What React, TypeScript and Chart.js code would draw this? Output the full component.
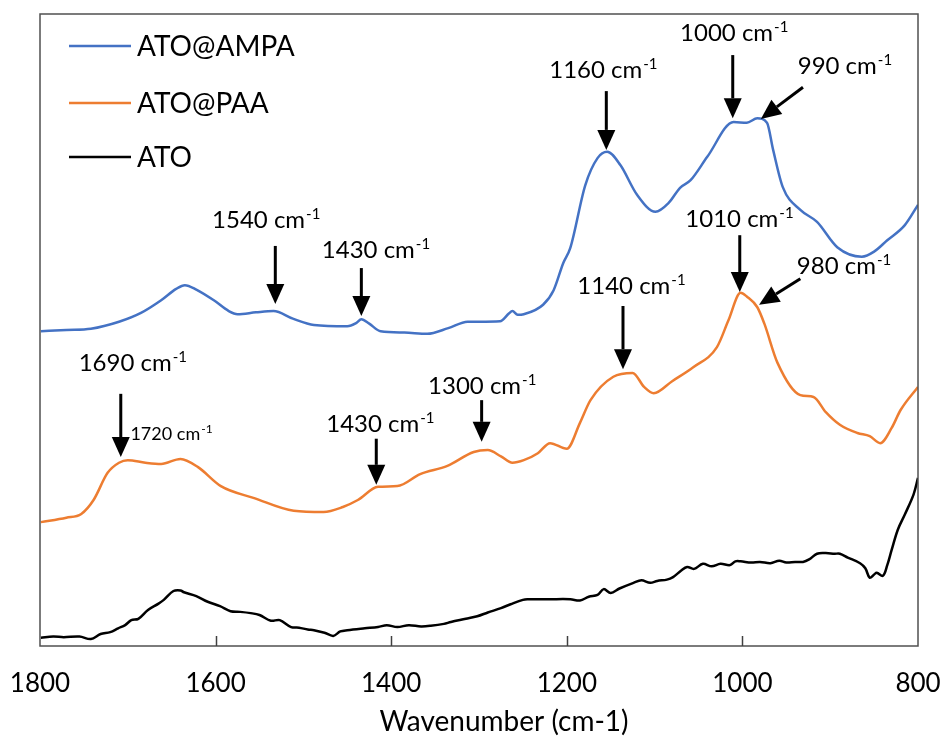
import React, { useEffect, useRef } from 'react';
import { Chart, registerables } from 'chart.js';

Chart.register(...registerables);

const FONT = 'Lato, "Open Sans", sans-serif';

// ---- Data (wavenumber in cm-1, absorbance in arbitrary units) ----
const seriesNames = ['ATO@AMPA', 'ATO@PAA', 'ATO'];
const seriesColors = ['#4472C4', '#ED7D31', '#000000'];
const xAxisTitle = 'Wavenumber (cm-1)';

const amapWn = [1799, 1770, 1742, 1710, 1685, 1662, 1645, 1635, 1622, 1602, 1585, 1575, 1554, 1534, 1512, 1488, 1450, 1440, 1434, 1425, 1412, 1385, 1359, 1335, 1313, 1276, 1266, 1262, 1256, 1249, 1227, 1215, 1204, 1196, 1179, 1165, 1154, 1139, 1120, 1099, 1084, 1071, 1059, 1040, 1010, 995, 983, 972, 965, 954, 934, 915, 892, 864, 850, 835, 815, 800];
const amapAbs = [49.8, 50.0, 50.2, 51.3, 52.7, 54.7, 56.5, 57.1, 56.4, 54.7, 53.0, 52.5, 52.8, 53.0, 51.8, 50.8, 50.6, 51.1, 51.7, 51.0, 49.8, 49.6, 49.4, 50.3, 51.3, 51.4, 52.6, 53.0, 52.4, 52.5, 54.0, 56.3, 60.6, 63.0, 72.9, 77.2, 78.2, 76.1, 71.4, 68.7, 70.1, 72.5, 73.7, 77.4, 82.9, 82.8, 83.5, 82.8, 78.5, 72.6, 69.0, 67.1, 63.1, 61.6, 62.4, 64.2, 66.6, 69.8];

const paaWn = [1799, 1770, 1753, 1739, 1723, 1710, 1700, 1680, 1662, 1640, 1620, 1594, 1556, 1511, 1477, 1455, 1438, 1415, 1393, 1367, 1336, 1306, 1290, 1275, 1262, 1249, 1233, 1219, 1200, 1185, 1173, 1147, 1125, 1112, 1101, 1080, 1056, 1029, 1016, 1002, 995, 983, 975, 960, 934, 919, 905, 889, 869, 855, 843, 830, 820, 800];
const paaAbs = [19.6, 20.3, 20.9, 23.1, 27.4, 29.0, 29.4, 29.0, 28.8, 29.6, 28.3, 25.3, 23.4, 21.4, 21.2, 22.0, 23.1, 25.2, 25.3, 27.2, 28.5, 30.7, 31.0, 30.0, 29.0, 29.4, 30.5, 32.1, 31.2, 35.3, 38.9, 42.6, 43.2, 41.0, 40.0, 41.9, 44.1, 47.3, 51.5, 55.9, 55.3, 53.6, 51.0, 44.8, 39.7, 39.4, 37.0, 35.0, 33.7, 33.2, 32.1, 34.5, 37.3, 41.0];

const atoWn = [1799, 1785, 1773, 1755, 1742, 1731, 1720, 1711, 1703, 1696, 1688, 1677, 1665, 1659, 1648, 1640, 1636, 1622, 1609, 1595, 1583, 1572, 1560, 1550, 1537, 1527, 1514, 1505, 1495, 1488, 1476, 1466, 1458, 1450, 1430, 1415, 1405, 1393, 1380, 1366, 1355, 1340, 1332, 1315, 1302, 1290, 1275, 1264, 1250, 1245, 1220, 1196, 1185, 1175, 1165, 1158, 1150, 1140, 1124, 1115, 1105, 1097, 1086, 1079, 1070, 1063, 1055, 1045, 1035, 1025, 1014, 1008, 1002, 990, 980, 968, 958, 950, 940, 931, 924, 915, 905, 895, 889, 880, 866, 860, 855, 850, 847, 840, 835, 830, 823, 815, 805, 800];
const atoAbs = [1.3, 1.5, 1.4, 1.5, 1.1, 1.9, 2.2, 2.8, 3.3, 4.1, 4.3, 5.7, 6.7, 7.3, 8.7, 8.8, 8.5, 7.9, 7.0, 6.3, 5.5, 5.4, 5.2, 4.9, 4.0, 4.1, 3.0, 2.9, 2.6, 2.5, 2.1, 1.6, 2.3, 2.5, 2.8, 3.0, 3.3, 3.0, 3.3, 3.1, 3.2, 3.5, 3.8, 4.3, 4.7, 5.3, 6.0, 6.6, 7.3, 7.4, 7.4, 7.4, 7.2, 7.8, 8.1, 9.0, 8.4, 9.1, 10.0, 10.4, 10.0, 10.3, 10.5, 10.9, 11.9, 12.5, 12.2, 13.0, 12.6, 13.0, 12.8, 13.4, 13.4, 13.2, 13.3, 13.1, 13.5, 13.2, 13.3, 13.3, 13.7, 14.6, 14.7, 14.6, 14.6, 14.0, 13.1, 12.3, 10.8, 11.3, 11.6, 11.1, 12.8, 15.2, 18.4, 20.8, 24.0, 26.6];

const xTickValues = [1800, 1600, 1400, 1200, 1000, 800];

// ---- Peak annotations ----
const annotLabels = ['1000', '990', '1160', '1010', '980', '1140', '1540', '1430', '1690', '1720', '1430', '1300'];
const annotSmall = [false, false, false, false, false, false, false, false, false, true, false, false];
const annotTextWn = [1071, 937, 1220, 1065, 938, 1188, 1604, 1479, 1756, 1697, 1474, 1358];
const annotTextAbs = [95.7, 90.5, 89.9, 66.3, 58.9, 55.7, 66.1, 61.4, 43.5, 32.6, 33.9, 39.9];
const arrowFromWn = [1011, 931, 1155, 1003, 934, 1136, 1532, 1434, 1708, null, 1417, 1297];
const arrowFromAbs = [93.5, 88.4, 87.8, 65.0, 58.1, 53.8, 63.3, 59.8, 39.9, null, 32.8, 38.9];
const arrowToWn = [1011, 979, 1155, 1003, 981, 1136, 1532, 1434, 1708, null, 1417, 1297];
const arrowToAbs = [83.5, 83.4, 78.5, 56.0, 54.0, 43.8, 54.1, 52.2, 29.9, null, 25.5, 32.3];

function toPoints(wn: number[], abs: number[]) {
  return wn.map((w, i) => ({ x: w, y: abs[i] }));
}

const overlayPlugin = {
  id: 'overlay',
  afterDraw(chart: any) {
    const { ctx, chartArea: ca, scales } = chart;
    const xs = scales.x;
    const ys = scales.y;
    ctx.save();

    // frame
    ctx.strokeStyle = '#505050';
    ctx.lineWidth = 1.5;
    ctx.strokeRect(ca.left, ca.top, ca.right - ca.left, ca.bottom - ca.top);

    // inner tick marks
    ctx.strokeStyle = '#404040';
    ctx.lineWidth = 1.5;
    xs.ticks.forEach((t: any) => {
      if (t.value === xs.min || t.value === xs.max) return;
      const px = Math.round(xs.getPixelForValue(t.value)) + 0.5;
      ctx.beginPath();
      ctx.moveTo(px, ca.bottom);
      ctx.lineTo(px, ca.bottom - 10);
      ctx.stroke();
    });

    // axis title
    ctx.fillStyle = '#000';
    ctx.font = `28px ${FONT}`;
    ctx.textAlign = 'center';
    ctx.textBaseline = 'middle';
    ctx.fillText(xAxisTitle, (ca.left + ca.right) / 2 + 25, ca.bottom + 76);

    // legend
    const rows = [32, 89, 143];
    seriesNames.forEach((name, i) => {
      const y = ca.top + rows[i];
      ctx.strokeStyle = seriesColors[i];
      ctx.lineWidth = 2.5;
      ctx.beginPath();
      ctx.moveTo(ca.left + 29, y);
      ctx.lineTo(ca.left + 91, y);
      ctx.stroke();
      ctx.fillStyle = '#000';
      ctx.font = `28px ${FONT}`;
      ctx.textAlign = 'left';
      ctx.textBaseline = 'alphabetic';
      ctx.fillText(name, ca.left + 97, y + 10);
    });

    // annotations
    annotLabels.forEach((lab, i) => {
      const tx = xs.getPixelForValue(annotTextWn[i]);
      const ty = ys.getPixelForValue(annotTextAbs[i]);
      const big = annotSmall[i] ? 18 : 24;
      const sup = annotSmall[i] ? 12 : 15;
      ctx.fillStyle = '#000';
      ctx.textAlign = 'left';
      ctx.textBaseline = 'alphabetic';
      ctx.font = `${big}px ${FONT}`;
      const main = `${lab} cm`;
      ctx.fillText(main, tx, ty);
      const w = ctx.measureText(main).width;
      ctx.font = `${sup}px ${FONT}`;
      ctx.fillText('-1', tx + w + 1, ty - big * 0.38);

      const fw = arrowFromWn[i];
      if (fw == null) return;
      const x0 = xs.getPixelForValue(fw);
      const y0 = ys.getPixelForValue(arrowFromAbs[i] as number);
      const x1 = xs.getPixelForValue(arrowToWn[i] as number);
      const y1 = ys.getPixelForValue(arrowToAbs[i] as number);
      const ang = Math.atan2(y1 - y0, x1 - x0);
      const headLen = 20;
      const headHalf = 9;
      const bx = x1 - headLen * Math.cos(ang);
      const by = y1 - headLen * Math.sin(ang);
      ctx.strokeStyle = '#000';
      ctx.lineWidth = 3;
      ctx.beginPath();
      ctx.moveTo(x0, y0);
      ctx.lineTo(bx, by);
      ctx.stroke();
      ctx.beginPath();
      ctx.moveTo(x1, y1);
      ctx.lineTo(bx + headHalf * Math.sin(ang), by - headHalf * Math.cos(ang));
      ctx.lineTo(bx - headHalf * Math.sin(ang), by + headHalf * Math.cos(ang));
      ctx.closePath();
      ctx.fillStyle = '#000';
      ctx.fill();
    });

    ctx.restore();
  },
};

export default function App() {
  const canvasRef = useRef<HTMLCanvasElement | null>(null);

  useEffect(() => {
    document.body.style.margin = '0';
    const canvas = canvasRef.current;
    if (!canvas) return;
    const datasets = [
      toPoints(amapWn, amapAbs),
      toPoints(paaWn, paaAbs),
      toPoints(atoWn, atoAbs),
    ].map((data, i) => ({
      label: seriesNames[i],
      data,
      borderColor: seriesColors[i],
      backgroundColor: seriesColors[i],
      borderWidth: 2.5,
      pointRadius: 0,
      tension: 0.35,
      cubicInterpolationMode: i === 2 ? 'default' : 'monotone',
      fill: false,
    }));

    const chart = new Chart(canvas, {
      type: 'line',
      data: { datasets } as any,
      options: {
        animation: false,
        responsive: false,
        devicePixelRatio: 1,
        layout: { padding: { left: 40, right: 26, top: 14, bottom: 0 } },
        plugins: { legend: { display: false }, tooltip: { enabled: false } },
        scales: {
          x: {
            type: 'linear',
            reverse: true,
            min: 800,
            max: 1800,
            afterBuildTicks: (scale: any) => {
              scale.ticks = xTickValues.map((v) => ({ value: v }));
            },
            afterFit: (scale: any) => {
              scale.height = 92;
              scale.paddingLeft = 0;
              scale.paddingRight = 0;
            },
            grid: { display: false, drawTicks: false },
            border: { display: false },
            ticks: {
              color: '#000',
              padding: 22,
              maxRotation: 0,
              autoSkip: false,
              font: { family: FONT, size: 26 },
              callback: (v: any) => String(v),
            },
            title: { display: false },
          },
          y: {
            display: false,
            min: 0,
            max: 100,
          },
        },
      },
      plugins: [overlayPlugin],
    } as any);
    return () => chart.destroy();
  }, []);

  return (
    <div style={{ position: 'absolute', left: 0, top: 0, width: 944, height: 738, background: '#fff' }}>
      <canvas ref={canvasRef} width={944} height={738} />
    </div>
  );
}
